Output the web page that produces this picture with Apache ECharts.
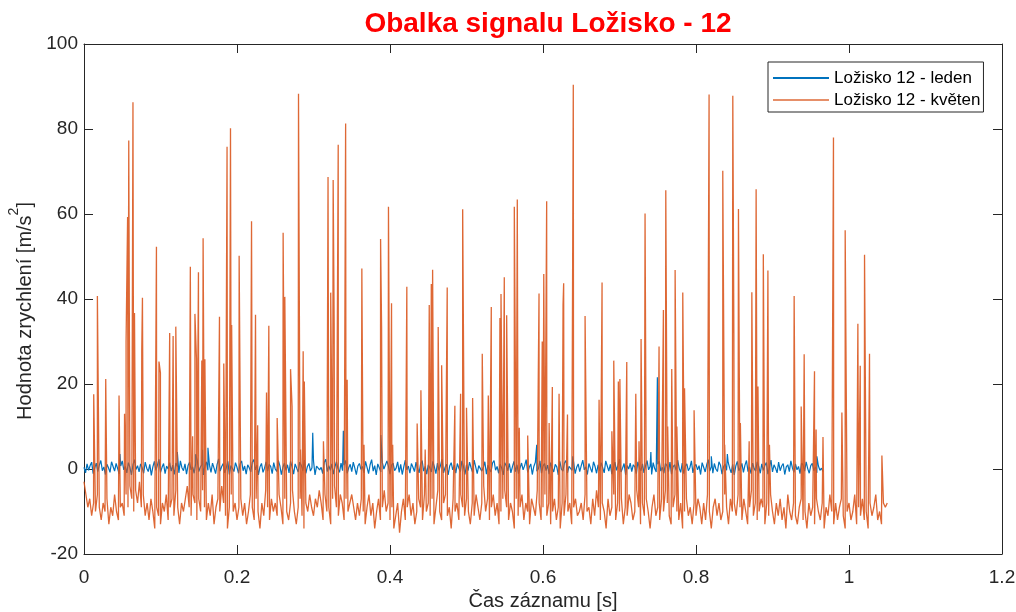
<!DOCTYPE html>
<html><head><meta charset="utf-8">
<script src="https://cdn.jsdelivr.net/npm/echarts@6/dist/echarts.min.js"></script>
<style>html,body{margin:0;padding:0;background:#fff}#c{width:1016px;height:612px}</style>
</head><body><div id="c"></div>
<script>
const chartTitle = 'Obalka signalu Ložisko - 12';
const seriesNames = ['Ložisko 12 - leden', 'Ložisko 12 - květen'];
const xAxisName = 'Čas záznamu [s]';
const xRange = [0, 1.2, 0.2];
const yRange = [-20, 100, 20];

// leden (blue): sampled every 0.002 s from 0
const blueStep = 0.002;
const blueBase = [
0.4,-0.9,1.2,-0.3,0.8,1.6,-1.1,0.2,1.4,-0.6,0.9,2.0,-0.4,0.5,-1.3,1.1,0.3,-0.8,1.7,0.6,
-0.5,1.3,0.1,-1.2,0.7,1.9,-0.2,0.6,-0.9,1.5,0.4,-1.4,1.0,2.2,-0.1,0.8,-0.7,1.2,0.3,-1.0,
1.6,0.2,-0.6,1.1,-1.5,0.5,1.8,-0.3,0.9,2.3,-0.8,0.4,1.3,-1.1,0.7,0.0,1.5,-0.5,0.9,-1.3,
1.4,0.6,-0.9,1.9,0.3,-0.4,1.2,-1.2,0.8,1.6,-0.2,0.5,-1.0,1.3,2.1,-0.6,0.4,1.0,-1.4,0.7,
1.7,-0.3,0.9,-0.8,1.4,0.2,-1.1,1.1,2.4,-0.5,0.6,1.3,-0.9,0.3,1.8,-1.3,0.8,0.1,-0.6,1.5,
0.4,-1.0,1.2,1.9,-0.4,0.7,-1.2,1.0,0.3,-0.7,1.6,2.2,-0.2,0.9,-1.4,0.5,1.3,-0.8,0.2,1.7,
-0.5,1.1,0.6,-1.1,1.5,0.0,-0.6,2.0,0.8,-1.3,0.4,1.4,-0.3,1.0,-0.9,1.8,0.5,-1.2,1.2,0.2,
-0.7,1.6,0.9,-0.4,2.1,-1.0,0.6,1.3,-0.5,0.3,1.9,-1.4,0.7,1.1,-0.2,0.4,-1.1,1.5,2.3,-0.6,
0.8,-0.3,1.2,-1.2,0.5,1.7,0.1,-0.8,1.4,-0.4,0.9,2.0,-1.0,0.3,1.1,-0.6,1.6,0.2,-1.3,0.7,
1.3,-0.1,0.6,-0.9,1.8,0.4,-1.1,1.0,2.2,-0.5,0.8,-1.4,1.2,0.3,-0.7,1.5,0.0,-0.3,1.9,0.6,
-1.2,0.9,1.4,-0.4,0.2,1.7,-0.8,1.1,-1.3,0.5,2.1,-0.2,0.7,-1.0,1.3,0.4,-0.6,1.6,0.1,-0.9,
1.2,2.0,-0.5,0.6,-1.2,1.0,0.3,-0.7,1.8,0.5,-1.1,1.4,-0.3,0.8,2.3,-0.9,0.4,1.1,-1.4,0.7,
1.5,-0.2,0.9,-1.0,1.3,0.2,-0.6,1.9,0.6,-1.3,1.0,-0.4,1.6,0.3,-0.8,2.1,0.5,-1.1,0.8,1.2,
-0.5,0.4,1.7,-1.2,0.9,0.0,-0.7,1.4,2.0,-0.3,0.6,-1.0,1.1,0.2,-1.4,1.5,0.7,-0.4,1.3,-0.9,
0.5,1.8,-0.6,1.0,-1.1,0.3,1.4,-0.2,0.8,2.2,-0.8,0.4,1.2,-1.3,0.6,1.6,-0.5,0.1,1.9,-1.0,
0.7,1.3,-0.4,0.9,-1.2,1.5,0.2,-0.7,1.1,0.5,-1.4,1.8,0.0,-0.5,1.4,2.0,-0.9,0.6,1.0,-0.3,
1.6,-1.1,0.4,1.2,-0.6,0.8,2.1,-0.2,0.5,-1.3,1.3,0.2,-0.8,1.7,0.6,-1.0,1.0,-0.4,1.5,0.3,
-0.9,1.9,0.7,-0.5,1.1,-1.2,0.4,1.6,-0.3,0.9,2.3,-0.7,0.2,1.3,-1.4,0.8,0.0,1.4,-0.6,1.0,
0.5,-1.1,1.7,0.3,-0.4,1.2,-0.9,0.7,2.0,-0.2,0.6,-1.3,1.5,0.1,-0.7,1.1,1.8,-0.5,0.4,-1.0,
1.3,0.8,-0.6,1.6,-1.2,0.5,1.0,-0.3,2.1,0.2,-0.8,1.4,-1.1,0.7,1.2,-0.4,0.3,1.9,-0.9,0.6,
1.1,-0.2,0.8,-1.3,1.5,0.4,-0.7,1.0,2.2,-0.5,0.6,-1.0,1.3,0.0,-0.6,1.7,0.9,-1.2,0.5,1.2,
-0.3,1.6,0.2,-0.9,1.1,-1.4,0.7,1.8,-0.4,0.3,1.3,-0.8,0.9,2.0,-0.6,0.5,-1.1,1.4,0.1,-0.5,
1.7,0.6,-1.0,1.2,-0.3,0.8,1.5,-1.2,0.4,2.1,-0.7,1.0,0.2,-0.9,1.6,-0.4,0.7,1.3,-1.3,0.5,
1.0,-0.6,1.9,0.3,-0.8,1.2,-0.2,0.6,-1.1,1.4,0.9,-0.5,1.7,0.1,-1.0,0.8,1.3,-0.4,0.5,-0.9,
0.7,-0.3,0.2,-0.6
];
const blueSpikes = [
[0.047,3.5],[0.122,4],[0.146,3.5],[0.155,4.5],[0.162,5],[0.299,8.5],[0.339,9],[0.388,8],
[0.5918,5.7],[0.639,3],[0.741,4],[0.7495,21.6],[0.82,3],[0.841,3.5],[0.958,3]
];

// kveten (orange): sampled every 0.0025 s from 0
const orangeStep = 0.0025;
const orangeBase = [
-3,-6,-9,-7,-11,-8,-10,-6,-9,-12,-8,-10,-7,-13,-9,-11,-6,-10,-12,-9,
-8,-11,-6,-9,-4,-7,-10,-5,-8,-3,-9,-6,-11,-8,-12,-7,-10,-14,-9,-11,
-13,-8,-10,-6,-12,-9,-7,-11,-5,-9,-13,-8,-10,-7,-4,-9,-11,-6,-8,-12,
-7,-10,-5,-9,-12,-8,-11,-6,-13,-9,-7,-10,-4,-8,-11,-14,-9,-6,-10,-8,
-12,-9,-7,-11,-8,-13,-10,-6,-9,-12,-7,-10,-14,-8,-11,-5,-9,-12,-7,-10,
-8,-11,-6,-9,-13,-7,-10,-12,-8,-5,-10,-13,-9,-7,-11,-14,-8,-10,-6,-9,
-11,-7,-9,-5,-8,-12,-6,-10,-9,-13,-7,-4,-9,-11,-6,-8,-12,-7,-10,-8,
-6,-9,-12,-8,-11,-7,-10,-13,-9,-6,-11,-8,-14,-10,-7,-12,-9,-5,-10,-8,
-12,-9,-14,-11,-8,-15,-10,-7,-12,-9,-6,-11,-8,-13,-10,-7,-9,-12,-6,-10,
-8,-11,-7,-13,-9,-5,-10,-12,-8,-6,-11,-9,-14,-7,-10,-8,-12,-6,-9,-11,
-7,-10,-13,-8,-11,-6,-9,-12,-8,-4,-10,-7,-12,-9,-6,-11,-8,-13,-10,-7,
-5,-9,-12,-8,-10,-14,-7,-11,-9,-6,-12,-8,-10,-13,-7,-9,-11,-5,-8,-12,
-9,-6,-11,-8,-13,-10,-7,-12,-9,-14,-8,-11,-6,-10,-8,-13,-9,-7,-11,-10,
-8,-12,-6,-10,-9,-13,-7,-11,-5,-9,-12,-8,-10,-14,-7,-11,-9,-6,-12,-8,
-10,-7,-13,-9,-11,-6,-8,-12,-10,-5,-9,-13,-8,-11,-7,-10,-14,-9,-6,-11,
-9,-12,-7,-10,-5,-8,-11,-13,-9,-6,-10,-12,-8,-14,-10,-7,-11,-9,-13,-8,
-11,-7,-9,-13,-8,-12,-6,-10,-14,-9,-7,-11,-8,-12,-10,-6,-9,-13,-7,-10,
-8,-11,-6,-9,-12,-7,-10,-13,-9,-5,-11,-8,-12,-10,-7,-9,-13,-8,-11,-6,
-10,-13,-8,-11,-7,-12,-9,-14,-6,-10,-12,-8,-11,-13,-9,-7,-12,-10,-14,-8,
-11,-9,-13,-7,-10,-12,-8,-14,-9,-11,-6,-10,-13,-8,-12,-9,-7,-11,-14,-10,
-8,-12,-10,-6,-13,-9,-11,-7,-12,-10,-14,-8,-11,-9,-6,-12,-10,-13,-8,-9,
-8
];
const orangeSpikes = [
[0.0127,17.6],[0.0175,40.7],[0.0284,21.2],[0.0458,17.3],[0.053,13],[0.055,30],[0.057,59.3],[0.0585,77.3],
[0.064,86.3],[0.066,36.7],[0.0755,28],[0.0764,40.3],[0.0947,52.3],[0.098,25.3],[0.0999,22.6],[0.112,32],
[0.1165,31.3],[0.120,33.5],[0.139,47.6],[0.142,7.7],[0.145,36.5],[0.147,26],[0.1496,46.3],[0.154,25.5],
[0.1557,54.3],[0.158,25.8],[0.1771,35.8],[0.1827,24.8],[0.187,75.8],[0.1915,80.2],[0.193,33.9],[0.2028,50.2],
[0.219,58.3],[0.2242,36.3],[0.227,10.3],[0.2386,18],[0.2416,33.7],[0.2525,12],[0.2603,55.6],[0.2625,40.5],
[0.270,23.5],[0.272,14.7],[0.2804,88.3],[0.283,4.6],[0.2865,27.7],[0.288,20.6],[0.313,6.5],[0.319,68.7],
[0.3225,41.5],[0.3257,68],[0.327,34.3],[0.3323,76.3],[0.342,81.3],[0.344,21],[0.3632,47.2],[0.366,5.7],
[0.3877,54.1],[0.389,33.5],[0.398,61.7],[0.402,39],[0.4035,5.7],[0.422,42.9],[0.4355,10.7],[0.4404,18.5],
[0.446,4.6],[0.4513,38.6],[0.454,43.5],[0.4557,46.9],[0.463,33.4],[0.4675,24.4],[0.4748,42.7],[0.4848,14.9],
[0.4923,17.7],[0.495,61.1],[0.5,14.4],[0.508,16.7],[0.5206,27.1],[0.5285,17.3],[0.5324,38.1],[0.5437,35.5],
[0.5451,41.2],[0.5494,45.1],[0.5525,36.2],[0.5625,61.7],[0.5664,63.4],[0.569,9.7],[0.58,7.9],[0.5948,41.3],
[0.599,30],[0.601,45.9],[0.6048,63],[0.608,10.8],[0.6122,19.3],[0.621,17.7],[0.6262,38.6],[0.627,43.7],
[0.632,12.8],[0.6396,90.4],[0.655,36],[0.6733,16.3],[0.6772,43.9],[0.690,8.9],[0.6925,25.5],[0.6985,20.6],
[0.7005,21.2],[0.7095,25.2],[0.7213,17.7],[0.7255,6.5],[0.7282,30.6],[0.7334,60.1],[0.7517,28.8],[0.7574,37.4],
[0.7605,65.6],[0.763,10],[0.7683,23.5],[0.7727,46.8],[0.775,10],[0.7827,41.5],[0.785,19],[0.7975,13.8],
[0.8171,88.1],[0.835,70.2],[0.8375,5.7],[0.8481,87.8],[0.8495,32],[0.8555,61.2],[0.858,10.8],[0.8695,6.5],
[0.873,41.6],[0.8786,65.8],[0.881,19.4],[0.888,50.5],[0.894,46.7],[0.896,5.7],[0.9283,40.7],[0.9375,14.7],
[0.9414,27],[0.9549,23],[0.957,9.3],[0.966,7.5],[0.9797,78],[0.9907,13.3],[0.995,56.2],[1.0116,34.2],
[1.0147,24.3],[1.0203,50.4],[1.0268,27.1],[1.043,3.2]
];

function buildSeries(step, base, spikes) {
  const pts = base.map((v, i) => [Math.round(i * step * 10000) / 10000, v]);
  spikes.forEach(p => pts.push([p[0], p[1]]));
  pts.sort((a, b) => a[0] - b[0]);
  return pts;
}

const FONT = 'Liberation Sans, Arial, Helvetica, sans-serif';
const AX = '#262626';
const axisCommon = (pos, showLabel) => ({
  type: 'value', position: pos,
  axisLine: { show: true, onZero: false, lineStyle: { color: AX, width: 1 } },
  axisTick: { show: true, inside: true, length: 9, lineStyle: { color: AX, width: 1 } },
  splitLine: { show: false },
  axisLabel: { show: showLabel, color: AX, fontSize: 19, fontFamily: FONT }
});

const chart = echarts.init(document.getElementById('c'), null, { renderer: 'canvas' });
chart.setOption({
  animation: false,
  backgroundColor: '#fff',
  title: {
    text: chartTitle, left: 543, top: 5, textAlign: 'center',
    textStyle: { color: '#ff0000', fontSize: 28, fontWeight: 'bold', fontFamily: FONT }
  },
  legend: {
    orient: 'vertical', left: 768, top: 62,
    padding: [7, 3, 3, 5], itemGap: 4, itemWidth: 56, itemHeight: 2,
    borderColor: AX, borderWidth: 1, backgroundColor: '#fff',
    textStyle: { fontSize: 17, color: '#000', fontFamily: FONT, lineHeight: 18 },
    data: [{ name: seriesNames[0], icon: 'rect' }, { name: seriesNames[1], icon: 'rect' }]
  },
  grid: { left: 84, right: 14, top: 44, bottom: 58, outerBoundsMode: 'none', containLabel: false },
  xAxis: [
    Object.assign(axisCommon('bottom', true), {
      min: xRange[0], max: xRange[1], interval: xRange[2],
      name: xAxisName, nameLocation: 'middle', nameGap: 36,
      nameTextStyle: { fontSize: 20, color: AX, fontFamily: FONT },
      axisLabel: { show: true, color: AX, fontSize: 19, fontFamily: FONT, margin: 14 }
    }),
    Object.assign(axisCommon('top', false), { min: xRange[0], max: xRange[1], interval: xRange[2] })
  ],
  yAxis: [
    Object.assign(axisCommon('left', true), {
      min: yRange[0], max: yRange[1], interval: yRange[2],
      name: '{a|Hodnota zrychlení [m/s}{s|2}{a|]}', nameLocation: 'middle', nameGap: 38,
      nameTextStyle: {
        color: AX, fontFamily: FONT, padding: [0, 24, 0, 0],
        rich: {
          a: { fontSize: 20, color: AX, fontFamily: FONT, lineHeight: 28, verticalAlign: 'bottom' },
          s: { fontSize: 14, color: AX, fontFamily: FONT, lineHeight: 28, verticalAlign: 'top' }
        }
      },
      axisLabel: { show: true, color: AX, fontSize: 19, fontFamily: FONT, margin: 6 }
    }),
    Object.assign(axisCommon('right', false), { min: yRange[0], max: yRange[1], interval: yRange[2] })
  ],
  series: [
    {
      name: seriesNames[0], type: 'line', xAxisIndex: 0, yAxisIndex: 0,
      data: buildSeries(blueStep, blueBase, blueSpikes),
      showSymbol: false, symbol: 'none', sampling: null,
      itemStyle: { color: '#0072BD' },
      lineStyle: { color: '#0072BD', width: 1.2 }, z: 2
    },
    {
      name: seriesNames[1], type: 'line', xAxisIndex: 0, yAxisIndex: 0,
      data: buildSeries(orangeStep, orangeBase, orangeSpikes),
      showSymbol: false, symbol: 'none', sampling: null,
      itemStyle: { color: '#E68F69' },
      lineStyle: { color: '#D95319', width: 1.3, opacity: 0.88 }, z: 3
    }
  ]
});
</script></body></html>
